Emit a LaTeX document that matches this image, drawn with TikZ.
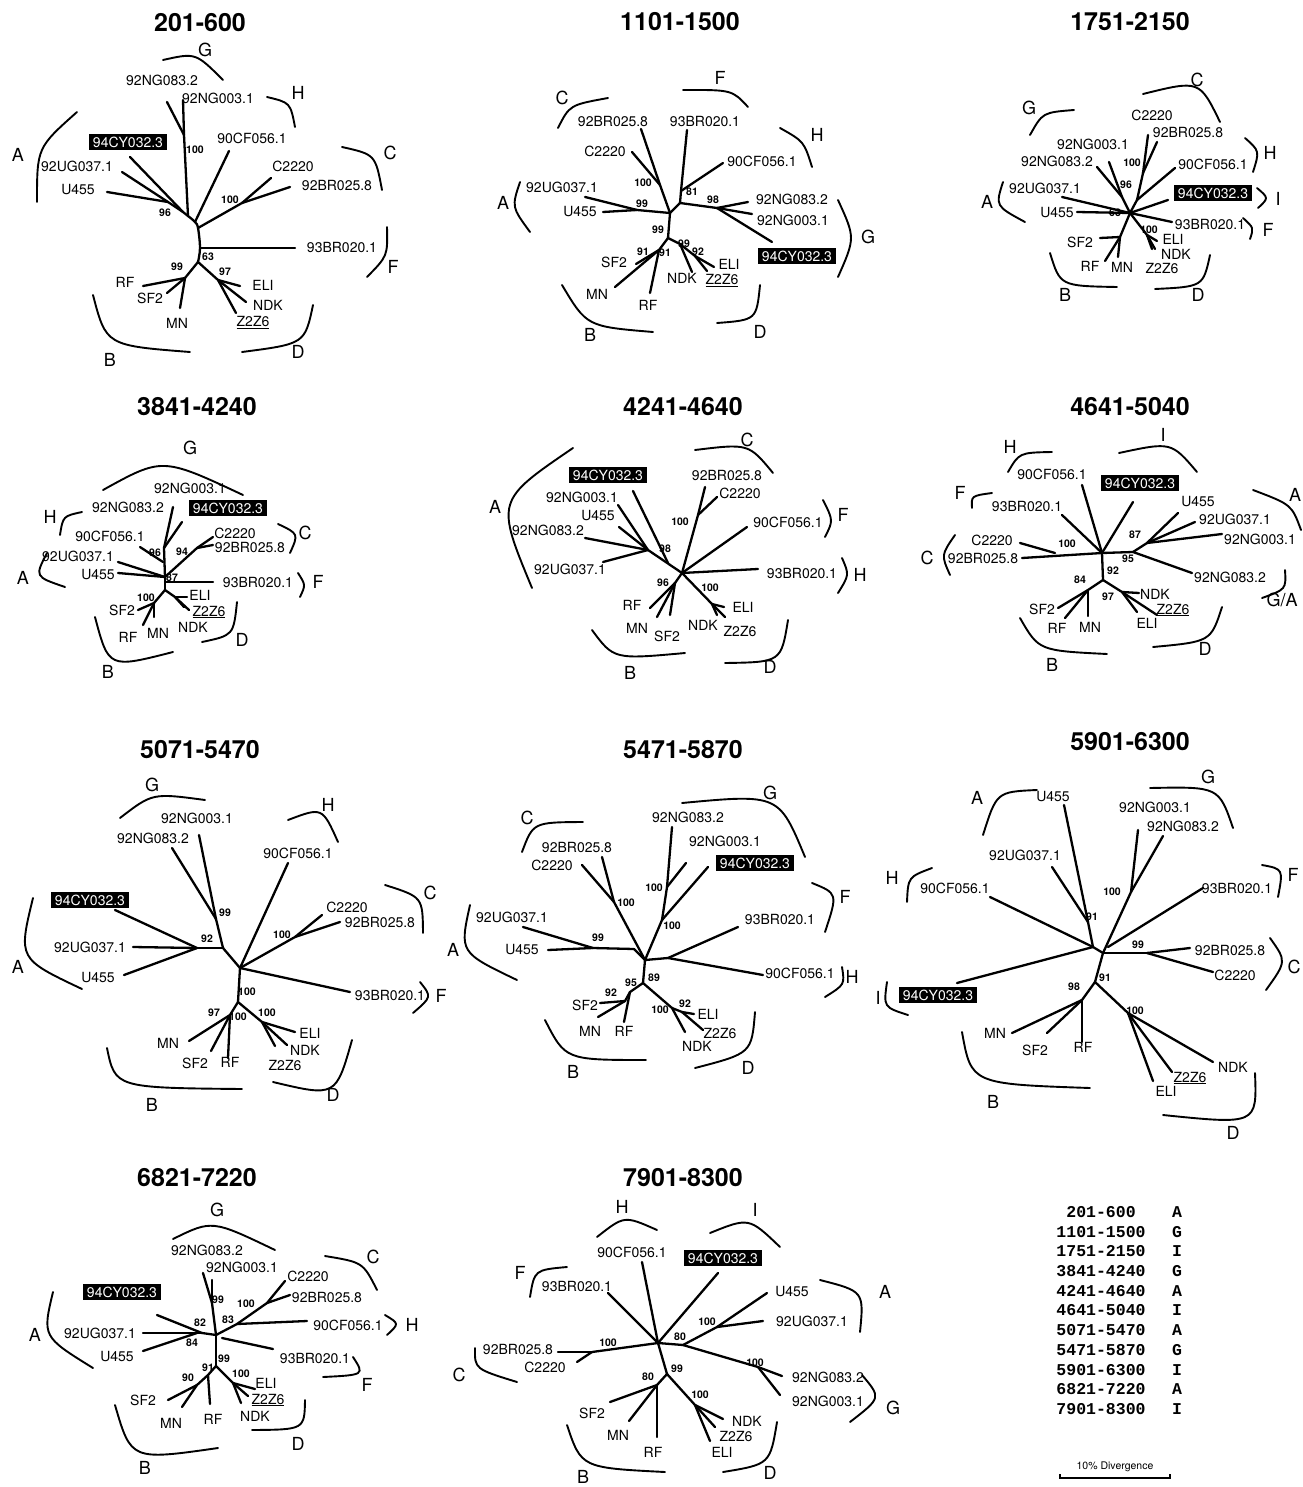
\documentclass[tikz,border=0pt]{standalone}
\usepackage{fontspec}
\setmainfont{TeX Gyre Heros}
\newfontfamily\legfont{Liberation Mono}
\usetikzlibrary{calc}
\newcommand\brkt[3]{\draw[brk] #1 .. controls ($1.3333*#2-0.16667*#1-0.16667*#3$) .. #3;}
\begin{document}
\begin{tikzpicture}[x=1pt,y=-1pt,
 br/.style={line width=2.3pt, line cap=round, line join=round},
 brk/.style={line width=1.9pt, line cap=round},
 lab/.style={font=\fontsize{14}{16}\selectfont, inner sep=0pt},
 bsv/.style={font=\fontsize{10.5}{12}\selectfont\bfseries, inner sep=0pt},
 cld/.style={font=\fontsize{18}{20}\selectfont, inner sep=0pt},
 ttl/.style={font=\fontsize{25}{28}\selectfont\bfseries, inner sep=0pt},
 cyb/.style={fill=black, text=white, font=\fontsize{14}{16}\selectfont, inner xsep=4pt, inner ysep=3pt},
 leg/.style={font=\legfont\fontsize{16.5}{18}\selectfont\bfseries, inner sep=0pt}]
\useasboundingbox (0,0) rectangle (1302,1487);
\fill[white] (0,0) rectangle (1302,1487);

% ---------- titles
\foreach \t/\x/\y [count=\i] in {201-600/200/23, 1101-1500/680/22, 1751-2150/1130/22,
  3841-4240/197/407, 4241-4640/683/407, 4641-5040/1130/407,
  5071-5470/200/750, 5471-5870/683/750, 5901-6300/1130/742,
  6821-7220/197/1178, 7901-8300/683/1178}
  \node[ttl] (title\i) at (\x,\y) {\t};

% ================= TREE 1 : 201-600
\foreach \n/\x/\y in {n1/188/216, a/168/202, k/183/212, e94/130/157, eUG/122/172, eU4/107/192,
  g/184/135, e83/167/102, e03/183/100, e90/229/151, s90/195/222, cn/242/203, e22/271/178,
  eBR/290/187, sC/198/228, s93/200/248, e93/295/248, l/198/262, b/185/278, eRF/143/286,
  eSF/167/293, eMN/180/308, d/218/280, eEL/240/286, eND/246/302, eZ/236/313}
  \coordinate (t1-\n) at (\x,\y);
\foreach \a/\b in {e94/k, eUG/a, eU4/a, a/k, k/n1, e83/g, e03/g, g/n1, e90/s90, e22/cn, eBR/cn,
  cn/sC, e93/s93, l/b, eRF/b, eSF/b, eMN/b, l/d, eEL/d, eND/d, eZ/d}
  \draw[br] (t1-\a) -- (t1-\b);
\draw[br] plot[smooth, tension=0.6] coordinates {(t1-n1) (t1-s90) (t1-sC) (t1-s93) (t1-l)};
\foreach \n/\x/\y/\t in {L83/162/80/92NG083.2, L03/218/98/92NG003.1, L90/252/138/90CF056.1,
  LUG/77/166/92UG037.1, L22/293/166/C2220, LU4/78/190/U455, LBR/337/186/92BR025.8,
  L93/342/248/93BR020.1, LRF/125/282/RF, LSF/150/298/SF2, LMN/177/323/MN, LEL/263/285/ELI,
  LND/268/305/NDK, LZ/253/323/\underline{Z2Z6}}
  \node[lab] (t1-\n) at (\x,\y) {\t};
\node[cyb] (t1-L94) at (128,142) {94CY032.3};
\foreach \x/\y/\t [count=\i] in {195/150/100, 230/200/100, 165/213/96, 208/257/63, 177/267/99, 225/272/97}
  \node[bsv] (t1-s\i) at (\x,\y) {\t};
\foreach \t/\x/\y in {G/205/50, H/298/93, A/18/155, C/390/153, F/393/267, B/110/360, D/298/352}
  \node[cld] (t1-k\t) at (\x,\y) {\t};
\brkt{(163,60)}{(195,57)}{(223,80)}
\brkt{(267,97)}{(288,105)}{(295,127)}
\brkt{(77,112)}{(42,150)}{(37,202)}
\brkt{(342,147)}{(372,158)}{(382,190)}
\brkt{(387,227)}{(385,255)}{(367,277)}
\brkt{(93,295)}{(115,340)}{(190,352)}
\brkt{(313,305)}{(298,340)}{(242,352)}

% ================= TREE 2 : 1101-1500
\foreach \n/\x/\y in {c/670/213, a/637/210, eU4/603/212, eUG/585/197, cn/660/185, e22/632/152,
  eBR/641/129, n2/680/203, e93/687/130, s90/681/191, e90/723/163, g/717/208, e83/748/202,
  e03/752/214, e94/772/242, l/668/238, b/659/250, eSF/636/264, eMN/615/287, eRF/650/293,
  d/680/244, eND/692/272, d2/695/256, eEL/714/267, eZ/707/271}
  \coordinate (t2-\n) at (\x,\y);
\foreach \a/\b in {eU4/a, eUG/a, a/c, eBR/cn, cn/c, e22/cn, c/n2, n2/s90, s90/e93, s90/e90, n2/g,
  g/e83, g/e03, g/e94, c/l, l/b, b/eSF, b/eMN, b/eRF, l/d, d/eND, d/d2, d2/eEL, d2/eZ}
  \draw[br] (t2-\a) -- (t2-\b);
\foreach \n/\x/\y/\t in {LBR/613/122/92BR025.8, L93/705/122/93BR020.1, L22/605/151/C2220,
  L90/762/161/90CF056.1, LUG/562/187/92UG037.1, LU4/580/212/U455, L83/792/199/92NG083.2,
  L03/793/220/92NG003.1, LSF/614/262/SF2, LEL/729/264/ELI, LND/682/278/NDK,
  LZ/722/281/\underline{Z2Z6}, LMN/597/294/MN, LRF/648/305/RF}
  \node[lab] (t2-\n) at (\x,\y) {\t};
\node[cyb] (t2-L94) at (797,256) {94CY032.3};
\foreach \x/\y/\t [count=\i] in {643/183/100, 692/192/81, 642/204/99, 713/200/98, 658/230/99,
  643/252/91, 665/253/91, 684/244/99, 698/252/92}
  \node[bsv] (t2-s\i) at (\x,\y) {\t};
\foreach \t/\x/\y in {C/562/98, F/720/78, H/817/135, A/503/203, G/868/237, B/590/335, D/760/332}
  \node[cld] (t2-k\t) at (\x,\y) {\t};
\brkt{(558,128)}{(573,107)}{(608,98)}
\brkt{(683,90)}{(728,92)}{(748,107)}
\brkt{(780,128)}{(802,143)}{(812,167)}
\brkt{(520,182)}{(515,207)}{(530,232)}
\brkt{(838,200)}{(851,238)}{(838,277)}
\brkt{(562,285)}{(592,322)}{(653,332)}
\brkt{(760,285)}{(752,316)}{(717,323)}

% ================= TREE 3 : 1751-2150
\foreach \n/\x/\y in {c/1130/213, eUG/1062/197, eU4/1077/212, g/1122/197, e83/1097/167,
  e03/1109/162, cn/1143/173, e22/1148/135, eBR/1157/142, s90/1137/200, e90/1175/168,
  e94/1168/200, e93/1172/222, d/1147/235, eEL/1157/241, eND/1155/249, eZ/1152/249,
  b/1120/237, eSF/1100/238, eRF/1105/261, eMN/1118/257}
  \coordinate (t3-\n) at (\x,\y);
\foreach \a/\b in {eUG/c, eU4/c, e83/g, e03/g, g/c, e22/cn, eBR/cn, cn/s90, s90/c, s90/e90, c/e94,
  c/e93, c/d, d/eEL, d/eND, d/eZ, c/b, b/eSF, b/eRF, b/eMN}
  \draw[br] (t3-\a) -- (t3-\b);
\foreach \n/\x/\y/\t in {L22/1152/115/C2220, LBR/1188/133/92BR025.8, L03/1093/144/92NG003.1,
  L83/1057/161/92NG083.2, L90/1213/164/90CF056.1, LUG/1045/188/92UG037.1, LU4/1057/213/U455,
  L93/1210/225/93BR020.1, LSF/1080/242/SF2, LEL/1173/239/ELI, LND/1176/254/NDK,
  LRF/1090/266/RF, LMN/1122/267/MN, LZ/1162/269/Z2Z6}
  \node[lab] (t3-\n) at (\x,\y) {\t};
\node[cyb] (t3-L94) at (1213,193) {94CY032.3};
\foreach \x/\y/\t [count=\i] in {1132/163/100, 1126/185/96, 1115/213/63, 1149/230/100}
  \node[bsv] (t3-s\i) at (\x,\y) {\t};
\foreach \t/\x/\y in {C/1197/80, G/1029/108, H/1270/153, A/987/202, I/1278/199, F/1268/230,
  B/1065/295, D/1198/295}
  \node[cld] (t3-k\t) at (\x,\y) {\t};
\brkt{(1143,94)}{(1195,87)}{(1220,122)}
\brkt{(1030,135)}{(1045,115)}{(1074,110)}
\brkt{(1245,138)}{(1257,152)}{(1253,172)}
\brkt{(1025,222)}{(1000,205)}{(1003,182)}
\brkt{(1257,188)}{(1266,198)}{(1258,208)}
\brkt{(1243,218)}{(1252,228)}{(1250,239)}
\brkt{(1050,253)}{(1066,282)}{(1117,287)}
\brkt{(1210,255)}{(1198,283)}{(1155,289)}

% ================= TREE 4 : 3841-4240
\foreach \n/\x/\y in {c/165/577, g/164/548, e83/173/507, e94/182/522, e90/140/547, s90/163/562,
  eUG/118/562, eU4/118/573, cn/197/548, e22/213/537, eBR/213/545, e93/213/582, s93/165/582,
  l/165/590, d/175/597, eEL/187/597, eZ/189/610, eND/184/607, b/154/603, eSF/138/610,
  eRF/143/625, eMN/154/617}
  \coordinate (t4-\n) at (\x,\y);
\foreach \a/\b in {g/c, g/e83, g/e94, e90/s90, eUG/c, eU4/c, c/cn, cn/e22, cn/eBR, c/l, s93/e93,
  l/d, d/eEL, d/eZ, d/eND, l/b, b/eSF, b/eRF, b/eMN}
  \draw[br] (t4-\a) -- (t4-\b);
\foreach \n/\x/\y/\t in {L03/190/488/92NG003.1, L83/128/507/92NG083.2, L90/110/536/90CF056.1,
  L22/235/533/C2220, LBR/250/547/92BR025.8, LUG/78/556/92UG037.1, LU4/98/575/U455,
  L93/258/582/93BR020.1, LEL/200/595/ELI, LSF/122/610/SF2, LZ/209/612/\underline{Z2Z6},
  LND/193/627/NDK, LRF/128/637/RF, LMN/158/633/MN}
  \node[lab] (t4-\n) at (\x,\y) {\t};
\node[cyb] (t4-L94) at (228,508) {94CY032.3};
\foreach \x/\y/\t [count=\i] in {155/553/96, 182/552/94, 172/578/87, 146/598/100}
  \node[bsv] (t4-s\i) at (\x,\y) {\t};
\foreach \t/\x/\y in {G/190/448, H/50/517, C/305/533, A/23/578, F/318/582, B/108/672, D/242/640}
  \node[cld] (t4-k\t) at (\x,\y) {\t};
\brkt{(103,490)}{(165,466)}{(243,495)}
\brkt{(82,512)}{(65,518)}{(60,535)}
\brkt{(278,524)}{(295,535)}{(290,553)}
\brkt{(65,587)}{(40,575)}{(47,553)}
\brkt{(298,573)}{(304,585)}{(300,597)}
\brkt{(95,617)}{(115,660)}{(173,652)}
\brkt{(237,602)}{(230,632)}{(202,642)}

% ================= TREE 5 : 4241-4640
\foreach \n/\x/\y in {c/682/573, a/648/550, e03/618/505, eU4/619/527, e83/585/538, eUG/603/562,
  e94/633/491, k/668/563, cn/698/515, eBR/705/487, e22/717/497, e90/747/527, e93/758/569,
  d/712/604, eEL/724/607, eZ/725/617, eND/717/615, b/675/583, eRF/650/608, eMN/657/617,
  eSF/670/615}
  \coordinate (t5-\n) at (\x,\y);
\foreach \a/\b in {a/c, a/e03, a/eU4, a/e83, a/eUG, e94/k, eBR/cn, cn/c, e22/cn, c/e90, c/e93,
  c/d, d/eEL, d/eZ, d/eND, c/b, b/eRF, b/eMN, b/eSF}
  \draw[br] (t5-\a) -- (t5-\b);
\foreach \n/\x/\y/\t in {LBR/727/475/92BR025.8, L03/582/497/92NG003.1, L22/740/493/C2220,
  LU4/598/516/U455, L90/788/522/90CF056.1, L83/548/530/92NG083.2, LUG/570/569/92UG037.1,
  L93/802/573/93BR020.1, LRF/632/605/RF, LEL/743/607/ELI, LMN/637/628/MN, LND/703/625/NDK,
  LSF/667/636/SF2, LZ/740/631/Z2Z6}
  \node[lab] (t5-\n) at (\x,\y) {\t};
\node[cyb] (t5-L94) at (608,475) {94CY032.3};
\foreach \x/\y/\t [count=\i] in {680/522/100, 665/549/98, 663/583/96, 710/588/100}
  \node[bsv] (t5-s\i) at (\x,\y) {\t};
\foreach \t/\x/\y in {A/495/507, C/747/440, F/843/515, H/860/575, B/630/673, D/770/667}
  \node[cld] (t5-k\t) at (\x,\y) {\t};
\brkt{(573,448)}{(510,505)}{(532,588)}
\brkt{(695,450)}{(745,448)}{(773,473)}
\brkt{(823,500)}{(831,520)}{(825,537)}
\brkt{(842,558)}{(847,575)}{(838,593)}
\brkt{(592,630)}{(620,655)}{(685,653)}
\brkt{(788,620)}{(775,657)}{(725,663)}

% ================= TREE 6 : 4641-5040
\foreach \n/\x/\y in {c/1102/553, e90/1082/485, e94/1133/502, e93/1062/515, cn/1055/553,
  e22/1020/543, eBR/1022/558, n95/1133/552, a/1147/543, eU4/1178/513, eUG/1195/522,
  e03/1222/534, e83/1192/573, l/1103/580, b/1088/590, eSF/1058/608, eRF/1065/618,
  eMN/1088/616, d/1122/592, eND/1139/593, eZ/1157/615, eEL/1137/612}
  \coordinate (t6-\n) at (\x,\y);
\foreach \a/\b in {c/e90, c/e94, c/e93, eBR/c, e22/cn, c/n95, n95/a, a/eU4, a/eUG, a/e03,
  n95/e83, c/l, l/b, b/eSF, b/eRF, b/eMN, l/d, d/eND, d/eZ, d/eEL}
  \draw[br] (t6-\a) -- (t6-\b);
\foreach \n/\x/\y/\t in {L90/1052/474/90CF056.1, L93/1027/506/93BR020.1, LU4/1198/502/U455,
  LUG/1235/519/92UG037.1, L22/992/540/C2220, L03/1260/539/92NG003.1, LBR/983/558/92BR025.8,
  L83/1230/577/92NG083.2, LND/1155/594/NDK, LSF/1042/609/SF2, LZ/1173/610/\underline{Z2Z6},
  LEL/1147/623/ELI, LRF/1057/628/RF, LMN/1090/627/MN}
  \node[lab] (t6-\n) at (\x,\y) {\t};
\node[cyb] (t6-L94) at (1140,483) {94CY032.3};
\foreach \x/\y/\t [count=\i] in {1135/535/87, 1067/544/100, 1128/559/95, 1113/571/92,
  1080/580/84, 1108/597/97}
  \node[bsv] (t6-s\i) at (\x,\y) {\t};
\foreach \t/\x/\y [count=\i] in {H/1010/447, I/1163/435, F/960/493, A/1295/495, C/927/558,
  G\slash A/1282/600, B/1052/665, D/1205/649}
  \node[cld] (t6-k\i) at (\x,\y) {\t};
\brkt{(1008,472)}{(1022,455)}{(1052,452)}
\brkt{(1119,453)}{(1168,447)}{(1197,472)}
\brkt{(972,508)}{(974,497)}{(992,493)}
\brkt{(1253,490)}{(1288,506)}{(1301,530)}
\brkt{(955,535)}{(944,555)}{(950,575)}
\brkt{(1285,570)}{(1283,588)}{(1262,598)}
\brkt{(1020,618)}{(1045,647)}{(1107,654)}
\brkt{(1222,607)}{(1205,638)}{(1153,647)}

% ================= TREE 7 : 5071-5470
\foreach \n/\x/\y in {c/240/968, a/197/948, e94/115/910, eUG/133/947, eU4/124/975, n2/223/948,
  g/216/919, e83/172/848, e03/199/835, e90/288/863, cn/295/937, e22/322/915, eBR/340/922,
  e93/350/992, l/238/1002, b/230/1015, eMN/189/1041, eSF/211/1051, eRF/228/1058,
  d/262/1022, eEL/295/1032, eND/287/1045, eZ/275/1046}
  \coordinate (t7-\n) at (\x,\y);
\foreach \a/\b in {a/e94, a/eUG, a/eU4, a/n2, g/e83, g/e03, g/n2, n2/c, c/e90, c/cn, cn/e22,
  cn/eBR, c/e93, c/l, l/b, b/eMN, b/eSF, b/eRF, l/d, d/eEL, d/eND, d/eZ}
  \draw[br] (t7-\a) -- (t7-\b);
\foreach \n/\x/\y/\t in {L03/197/818/92NG003.1, L83/153/838/92NG083.2, L90/298/853/90CF056.1,
  L22/347/907/C2220, LBR/380/922/92BR025.8, LUG/90/947/92UG037.1, LU4/98/978/U455,
  L93/390/995/93BR020.1, LEL/310/1033/ELI, LMN/168/1043/MN, LND/305/1050/NDK,
  LSF/195/1063/SF2, LRF/230/1062/RF, LZ/285/1065/Z2Z6}
  \node[lab] (t7-\n) at (\x,\y) {\t};
\node[cyb] (t7-L94) at (90,900) {94CY032.3};
\foreach \x/\y/\t [count=\i] in {225/913/99, 207/939/92, 282/935/100, 247/992/100,
  214/1013/97, 238/1017/100, 267/1013/100}
  \node[bsv] (t7-s\i) at (\x,\y) {\t};
\foreach \t/\x/\y in {G/152/785, H/328/805, C/430/893, A/18/967, F/441/996, B/152/1105, D/333/1095}
  \node[cld] (t7-k\t) at (\x,\y) {\t};
\brkt{(120,818)}{(155,797)}{(205,800)}
\brkt{(288,820)}{(320,813)}{(338,842)}
\brkt{(385,885)}{(418,900)}{(423,933)}
\brkt{(33,898)}{(28,955)}{(82,989)}
\brkt{(420,982)}{(428,997)}{(413,1013)}
\brkt{(107,1048)}{(130,1083)}{(242,1089)}
\brkt{(352,1040)}{(330,1088)}{(273,1082)}

% ================= TREE 8 : 5471-5870
\foreach \n/\x/\y in {c/645/960, cn/614/902, eBR/602/857, e22/582/865, a/593/948, eUG/523/927,
  eU4/548/950, s/634/949, g/667/887, e83/672/827, e03/686/863, k/662/920, e94/708/867,
  fh/668/958, e93/738/927, e90/763/975, l/643/983, b/630/992, b2/625/1001, eSF/600/1003,
  eMN/598/1017, eRF/624/1022, d/672/1008, eND/685/1032, d2/682/1012, eEL/694/1014,
  eZ/703/1030}
  \coordinate (t8-\n) at (\x,\y);
\foreach \a/\b in {eBR/cn, e22/cn, cn/c, eUG/a, eU4/a, a/s, s/c, e83/g, e03/g, g/k, k/c, k/e94,
  c/fh, fh/e93, fh/e90, c/l, l/b, b/b2, b2/eSF, b2/eMN, b/eRF, l/d, d/eND, d/d2, d2/eEL, d2/eZ}
  \draw[br] (t8-\a) -- (t8-\b);
\foreach \n/\x/\y/\t in {L83/688/817/92NG083.2, L03/725/841/92NG003.1, LBR/577/847/92BR025.8,
  L22/552/865/C2220, LUG/512/917/92UG037.1, L93/780/919/93BR020.1, LU4/522/950/U455,
  L90/800/973/90CF056.1, LSF/585/1005/SF2, LEL/708/1014/ELI, LMN/590/1031/MN,
  LRF/624/1031/RF, LZ/720/1033/Z2Z6, LND/697/1046/NDK}
  \node[lab] (t8-\n) at (\x,\y) {\t};
\node[cyb] (t8-L94) at (755,863) {94CY032.3};
\foreach \x/\y/\t [count=\i] in {626/903/100, 654/888/100, 672/926/100, 598/938/99, 654/978/89,
  631/983/95, 611/993/92, 660/1010/100, 685/1004/92}
  \node[bsv] (t8-s\i) at (\x,\y) {\t};
\foreach \t/\x/\y in {C/527/818, G/770/793, F/845/897, A/453/950, H/852/977, B/573/1072, D/748/1068}
  \node[cld] (t8-k\t) at (\x,\y) {\t};
\brkt{(522,852)}{(538,826)}{(583,822)}
\brkt{(682,803)}{(770,803)}{(805,857)}
\brkt{(812,883)}{(833,897)}{(825,932)}
\brkt{(470,905)}{(468,950)}{(517,980)}
\brkt{(842,967)}{(842,984)}{(825,997)}
\brkt{(545,1020)}{(573,1055)}{(646,1060)}
\brkt{(755,1012)}{(745,1050)}{(695,1068)}

% ================= TREE 9 : 5901-6300
\foreach \n/\x/\y in {c/1103/953, j/1093/947, a/1088/922, eU4/1064/805, eUG/1052/867,
  e90/990/897, e94/957/983, g/1131/892, e03/1138/830, e83/1163/836, s93/1108/947,
  e93/1203/888, cn/1147/953, eBR/1190/948, e22/1213/972, l/1095/982, b/1082/1000,
  eMN/1012/1033, eSF/1047/1033, eRF/1082/1042, d/1128/1013, eND/1213/1062,
  eZ/1172/1072, eEL/1153/1081}
  \coordinate (t9-\n) at (\x,\y);
\foreach \a/\b in {eU4/a, eUG/a, a/j, e90/j, e94/j, j/c, g/e03, g/e83, g/c, s93/e93, c/cn,
  cn/eBR, cn/e22, c/l, l/b, b/eMN, b/eSF, b/eRF, l/d, d/eND, d/eZ, d/eEL}
  \draw[br] (t9-\a) -- (t9-\b);
\foreach \n/\x/\y/\t in {LU4/1053/797/U455, L03/1155/807/92NG003.1, L83/1183/826/92NG083.2,
  LUG/1025/855/92UG037.1, L90/955/888/90CF056.1, L93/1237/888/93BR020.1,
  LBR/1230/950/92BR025.8, L22/1235/975/C2220, LMN/995/1033/MN, LSF/1035/1050/SF2,
  LRF/1083/1047/RF, LND/1233/1067/NDK, LZ/1190/1078/\underline{Z2Z6}, LEL/1166/1091/ELI}
  \node[lab] (t9-\n) at (\x,\y) {\t};
\node[cyb] (t9-L94) at (938,995) {94CY032.3};
\foreach \x/\y/\t [count=\i] in {1112/892/100, 1092/917/91, 1138/945/99, 1105/978/91,
  1074/987/98, 1135/1011/100}
  \node[bsv] (t9-s\i) at (\x,\y) {\t};
\foreach \t/\x/\y in {A/977/798, G/1208/777, H/892/878, F/1293/875, C/1294/967, I/878/998,
  B/993/1102, D/1233/1133}
  \node[cld] (t9-k\t) at (\x,\y) {\t};
\brkt{(983,835)}{(1000,797)}{(1037,790)}
\brkt{(1150,788)}{(1212,792)}{(1233,828)}
\brkt{(907,902)}{(911,879)}{(932,868)}
\brkt{(1262,865)}{(1280,872)}{(1278,897)}
\brkt{(1270,938)}{(1282,962)}{(1266,990)}
\brkt{(887,982)}{(887,1005)}{(908,1015)}
\brkt{(962,1032)}{(985,1078)}{(1090,1088)}
\brkt{(1255,1073)}{(1245,1117)}{(1163,1115)}

% ================= TREE 10 : 6821-7220
\foreach \n/\x/\y in {c/216/1335, g/212/1303, e83/203/1273, e03/212/1280, k/202/1333,
  e94/157/1315, a/197/1333, eUG/143/1333, eU4/143/1351, n83/237/1324, cn/267/1303,
  e22/285/1281, eBR/290/1295, e90/307/1321, s93/222/1338, e93/273/1349, l/216/1366,
  b/208/1375, b2/197/1385, eSF/168/1400, eMN/182/1407, eRF/210/1404, d/233/1383,
  eEL/255/1389, eZ/248/1396, eND/241/1403}
  \coordinate (t10-\n) at (\x,\y);
\foreach \a/\b in {g/e83, g/e03, g/c, e94/k, a/k, k/c, a/eUG, a/eU4, c/n83, n83/cn, cn/e22,
  cn/eBR, n83/e90, s93/e93, c/l, l/b, b/b2, b2/eSF, b2/eMN, b/eRF, l/d, d/eEL, d/eZ, d/eND}
  \draw[br] (t10-\a) -- (t10-\b);
\foreach \n/\x/\y/\t in {L83/207/1250/92NG083.2, L03/242/1267/92NG003.1, L22/308/1276/C2220,
  LBR/327/1297/92BR025.8, LUG/100/1333/92UG037.1, L90/348/1325/90CF056.1,
  LU4/117/1357/U455, L93/315/1358/93BR020.1, LEL/266/1383/ELI, LZ/268/1400/\underline{Z2Z6},
  LSF/143/1400/SF2, LND/255/1416/NDK, LMN/171/1423/MN, LRF/213/1419/RF}
  \node[lab] (t10-\n) at (\x,\y) {\t};
\node[cyb] (t10-L94) at (122,1292) {94CY032.3};
\foreach \x/\y/\t [count=\i] in {218/1300/99, 246/1304/100, 200/1323/82, 228/1320/83,
  192/1343/84, 224/1359/99, 208/1368/91, 188/1378/90, 241/1374/100}
  \node[bsv] (t10-s\i) at (\x,\y) {\t};
\foreach \t/\x/\y in {G/217/1210, C/373/1257, A/35/1335, H/412/1325, F/367/1385, B/145/1468, D/298/1444}
  \node[cld] (t10-k\t) at (\x,\y) {\t};
\brkt{(173,1239)}{(215,1226)}{(275,1250)}
\brkt{(325,1256)}{(360,1265)}{(377,1290)}
\brkt{(53,1292)}{(50,1335)}{(93,1368)}
\brkt{(385,1315)}{(396,1324)}{(387,1335)}
\brkt{(353,1357)}{(358,1373)}{(323,1377)}
\brkt{(115,1405)}{(140,1452)}{(218,1448)}
\brkt{(305,1400)}{(298,1426)}{(252,1430)}

% ================= TREE 11 : 7901-8300
\foreach \n/\x/\y in {c/658/1343, e90/642/1262, e94/718/1273, e93/608/1293, cn/592/1352,
  eBR/558/1352, e22/577/1362, n80/683/1345, a/717/1327, eU4/767/1293, eUG/763/1321,
  g/758/1367, e83/782/1376, e03/780/1395, l/667/1374, b/657/1385, eSF/610/1402,
  eMN/629/1421, eRF/657/1437, d/695/1405, eND/723/1419, eZ/715/1427, eEL/710/1441}
  \coordinate (t11-\n) at (\x,\y);
\foreach \a/\b in {c/e90, c/e94, c/e93, c/cn, cn/eBR, cn/e22, c/n80, n80/a, a/eU4, a/eUG,
  n80/g, g/e83, g/e03, c/l, l/b, b/eSF, b/eMN, b/eRF, l/d, d/eND, d/eZ, d/eEL}
  \draw[br] (t11-\a) -- (t11-\b);
\foreach \n/\x/\y/\t in {L90/632/1252/90CF056.1, L93/577/1286/93BR020.1, LU4/792/1292/U455,
  LUG/812/1321/92UG037.1, LBR/518/1349/92BR025.8, L22/545/1367/C2220,
  L83/828/1377/92NG083.2, L03/828/1401/92NG003.1, LSF/592/1413/SF2, LND/747/1421/NDK,
  LMN/618/1435/MN, LZ/736/1436/Z2Z6, LRF/653/1452/RF, LEL/722/1452/ELI}
  \node[lab] (t11-\n) at (\x,\y) {\t};
\node[cyb] (t11-L94) at (723,1258) {94CY032.3};
\foreach \x/\y/\t [count=\i] in {608/1343/100, 680/1337/80, 707/1322/100, 755/1363/100,
  677/1369/99, 648/1377/80, 700/1395/100}
  \node[bsv] (t11-s\i) at (\x,\y) {\t};
\foreach \t/\x/\y in {H/622/1207, I/755/1210, F/520/1273, A/885/1292, C/459/1375, G/893/1408,
  B/583/1477, D/770/1473}
  \node[cld] (t11-k\t) at (\x,\y) {\t};
\brkt{(597,1237)}{(625,1220)}{(657,1230)}
\brkt{(710,1233)}{(748,1223)}{(780,1247)}
\brkt{(530,1297)}{(538,1273)}{(567,1267)}
\brkt{(820,1280)}{(858,1295)}{(860,1332)}
\brkt{(475,1348)}{(480,1368)}{(517,1382)}
\brkt{(862,1375)}{(875,1398)}{(850,1422)}
\brkt{(567,1425)}{(590,1463)}{(665,1472)}
\brkt{(777,1422)}{(765,1460)}{(723,1472)}

% ================= legend
\foreach \a/\b [count=\i] in {201-600/A, 1101-1500/G, 1751-2150/I, 3841-4240/G, 4241-4640/A,
  4641-5040/I, 5071-5470/A, 5471-5870/G, 5901-6300/I, 6821-7220/A, 7901-8300/I}
{
  \node[leg] (leg\i a) at (1101,{1212+(\i-1)*19.7}) {\a};
  \node[leg] (leg\i b) at (1177,{1212+(\i-1)*19.7}) {\b};
}
\coordinate (sb1) at (1060,1478);
\coordinate (sb2) at (1170,1478);
\draw[line width=1.5pt] (sb1) ++(0,-4) -- (sb1) -- (sb2) -- ++(0,-4);
\node[font=\fontsize{10.5}{12}\selectfont, inner sep=0pt] (sbl) at (1115,1467) {10\% Divergence};
\end{tikzpicture}
\end{document}
